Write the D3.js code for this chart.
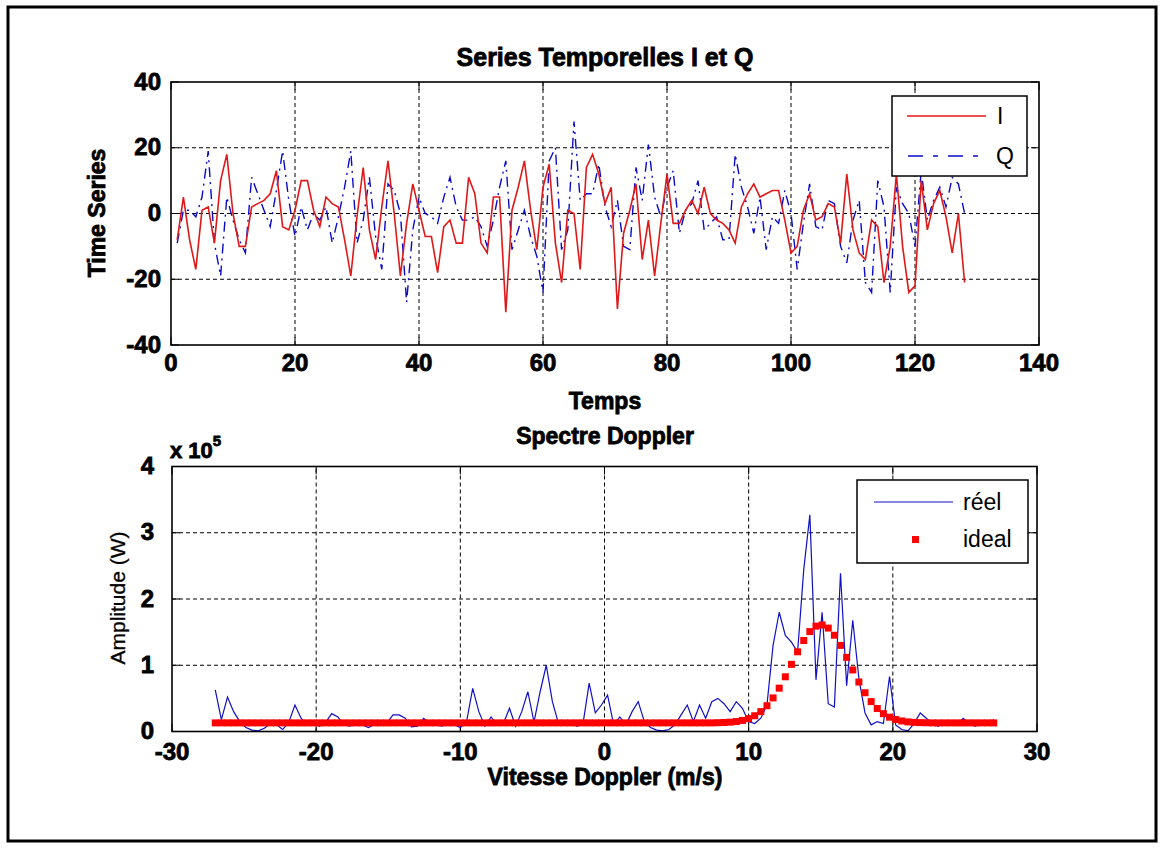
<!DOCTYPE html>
<html lang="fr">
<head>
<meta charset="UTF-8" />
<title>Series Temporelles I et Q - Spectre Doppler</title>
<style>
  body { margin: 0; background: #fff; }
  svg { display: block; font-family: "Liberation Sans", Arial, sans-serif; }
  .bold { font-weight: bold; fill: #000; stroke: #000; stroke-width: 0.8px; }
  .legend-text { font-size: 23px; fill: #000; }
</style>
<script src="https://d3js.org/d3.v7.min.js"></script>
</head>
<body>
<div id="chart"></div>
<script>
const width = 1164, height = 848;

// --- Series temporelles (128 echantillons) ---
const timeIdx = d3.range(1, 129);
const seriesI = [
  -8, 5, -8, -17, 1, 2, -9, 10, 18, 0, -10, -10, 2, 3, 4, 6,
  13, -4, -5, 1, 10, 10, 1, -4, 5, 3, 2, -8, -19, -1, 14, -5,
  -14, 2, 16, 0, -19, -3, 9, 1, -7, -7, -18, -4, -2, -9, -9, 11,
  6, -9, -12, 5, 5, -30, 1, 8, 16, 1, -11, 8, 15, -9, -21, 1,
  0, -17, 14, 18, 12, 3, 8, -29, -6, 1, 9, -14, -2, -19, -3, 12,
  -3, -3, 1, 4, 0, 8, 0, -2, -3, -5, -9, 2, 6, 9, 5, 6,
  7, 7, -2, -12, -10, 1, 6, -2, -1, 3, 2, -9, 12, -5, -12, -14,
  -2, -4, -21, -10, 12, -10, -24, -22, 10, -5, 3, 7, -1, -12, 0, -21
];
const seriesQ = [
  -9, 1, 1, -1, 5, 19, -9, -19, 5, -2, -8, -12, 11, 6, 1, -4,
  7, 19, 4, -7, 2, -5, 0, -2, 2, -9, -1, 8, 19, -9, -2, 11,
  -7, -17, 9, 7, 0, -27, -5, 5, 0, -1, -3, 5, 11, 2, -2, -2,
  -1, -4, -10, -2, 8, 16, -11, -5, 1, -7, -13, -24, 16, 20, -11, -5,
  28, 4, 6, 6, 15, 2, -4, 4, -10, -11, 14, 4, 21, 5, -1, 8,
  13, -6, 1, 3, 10, -5, -3, -1, -8, -8, 18, 8, 2, -6, 5, -11,
  -1, -3, 7, 0, -17, -3, 9, -4, -5, 4, 3, -10, -15, -2, 4, -21,
  -24, 10, 2, -24, 8, 3, 0, -10, 13, -2, 4, 8, 2, 11, 9, 0
];
const xTicksTop = [0, 20, 40, 60, 80, 100, 120, 140];
const yTicksTop = [-40, -20, 0, 20, 40];

// --- Spectre Doppler (128 raies, amplitude en 1e5 W) ---
const velocityRange = [-27, 27];
const spectreReel = [
  0.63, 0.18, 0.52, 0.30, 0.15, 0.06, 0.02, 0.01, 0.05, 0.12, 0.10, 0.03, 0.14, 0.40, 0.20, 0.10,
  0.12, 0.08, 0.14, 0.27, 0.22, 0.10, 0.08, 0.12, 0.10, 0.06, 0.11, 0.09, 0.13, 0.25, 0.25, 0.20,
  0.07, 0.08, 0.20, 0.12, 0.10, 0.08, 0.12, 0.10, 0.06, 0.15, 0.65, 0.30, 0.08, 0.22, 0.10, 0.12,
  0.35, 0.08, 0.30, 0.60, 0.14, 0.60, 1.00, 0.45, 0.12, 0.10, 0.15, 0.08, 0.12, 0.73, 0.28, 0.40,
  0.55, 0.10, 0.22, 0.10, 0.30, 0.45, 0.15, 0.06, 0.02, 0.01, 0.03, 0.10, 0.25, 0.40, 0.15, 0.40,
  0.20, 0.45, 0.50, 0.42, 0.30, 0.45, 0.35, 0.15, 0.12, 0.20, 0.40, 1.30, 1.80, 1.45, 1.35, 1.20,
  2.44, 3.27, 0.78, 1.80, 0.42, 0.37, 2.39, 0.69, 1.68, 0.80, 0.28, 0.10, 0.15, 0.12, 0.83, 0.10,
  0.03, 0.01, 0.12, 0.28, 0.20, 0.10, 0.08, 0.12, 0.15, 0.10, 0.20, 0.12, 0.08, 0.14, 0.10, 0.18
];
const spectreIdeal = [
  0.13, 0.13, 0.13, 0.13, 0.13, 0.13, 0.13, 0.13, 0.13, 0.13, 0.13, 0.13, 0.13, 0.13, 0.13, 0.13,
  0.13, 0.13, 0.13, 0.13, 0.13, 0.13, 0.13, 0.13, 0.13, 0.13, 0.13, 0.13, 0.13, 0.13, 0.13, 0.13,
  0.13, 0.13, 0.13, 0.13, 0.13, 0.13, 0.13, 0.13, 0.13, 0.13, 0.13, 0.13, 0.13, 0.13, 0.13, 0.13,
  0.13, 0.13, 0.13, 0.13, 0.13, 0.13, 0.13, 0.13, 0.13, 0.13, 0.13, 0.13, 0.13, 0.13, 0.13, 0.13,
  0.13, 0.13, 0.13, 0.13, 0.13, 0.13, 0.13, 0.13, 0.13, 0.13, 0.13, 0.13, 0.13, 0.13, 0.13, 0.13,
  0.13, 0.13, 0.133, 0.136, 0.141, 0.15, 0.167, 0.194, 0.238, 0.30, 0.389, 0.507, 0.654, 0.826, 1.014, 1.203,
  1.374, 1.508, 1.59, 1.608, 1.561, 1.453, 1.30, 1.119, 0.929, 0.747, 0.585, 0.451, 0.347, 0.269, 0.216, 0.181,
  0.159, 0.145, 0.138, 0.134, 0.132, 0.13, 0.13, 0.13, 0.13, 0.13, 0.13, 0.13, 0.13, 0.13, 0.13, 0.13
];
const xTicksBot = [-30, -20, -10, 0, 10, 20, 30];
const yTicksBot = [0, 1, 2, 3, 4];

const svg = d3.select("#chart").append("svg")
  .attr("width", width)
  .attr("height", height);

svg.append("rect").attr("width", width).attr("height", height).attr("fill", "#fff");

// cadre exterieur de la figure
svg.append("rect")
  .attr("x", 8).attr("y", 7)
  .attr("width", 1148).attr("height", 834)
  .attr("fill", "none").attr("stroke", "#000").attr("stroke-width", 3);

// dessine la grille, les graduations et leurs etiquettes
function drawAxes(g, x, y, xTicks, yTicks, xLabelY, yLabelGap) {
  const [x0, x1] = x.range();
  const [y0, y1] = y.range();

  // grille en pointilles
  g.append("g").selectAll("line")
    .data(xTicks.filter(d => d !== x.domain()[0] && d !== x.domain()[1]))
    .join("line")
    .attr("x1", d => x(d)).attr("x2", d => x(d))
    .attr("y1", y0).attr("y2", y1)
    .attr("stroke", "#000").attr("stroke-dasharray", "4,3");
  g.append("g").selectAll("line")
    .data(yTicks.filter(d => d !== y.domain()[0] && d !== y.domain()[1]))
    .join("line")
    .attr("x1", x0).attr("x2", x1)
    .attr("y1", d => y(d)).attr("y2", d => y(d))
    .attr("stroke", "#000").attr("stroke-dasharray", "4,3");

  // petites graduations vers l'interieur
  const tk = 8;
  xTicks.forEach(d => {
    g.append("line").attr("x1", x(d)).attr("x2", x(d)).attr("y1", y0).attr("y2", y0 - tk).attr("stroke", "#000");
    g.append("line").attr("x1", x(d)).attr("x2", x(d)).attr("y1", y1).attr("y2", y1 + tk).attr("stroke", "#000");
  });
  yTicks.forEach(d => {
    g.append("line").attr("x1", x0).attr("x2", x0 + tk).attr("y1", y(d)).attr("y2", y(d)).attr("stroke", "#000");
    g.append("line").attr("x1", x1).attr("x2", x1 - tk).attr("y1", y(d)).attr("y2", y(d)).attr("stroke", "#000");
  });

  g.append("g").selectAll("text")
    .data(xTicks)
    .join("text")
    .attr("class", "bold")
    .attr("x", d => x(d)).attr("y", xLabelY)
    .attr("text-anchor", "middle")
    .attr("font-size", 24)
    .text(d => d);
  g.append("g").selectAll("text")
    .data(yTicks)
    .join("text")
    .attr("class", "bold")
    .attr("x", x0 - yLabelGap).attr("y", d => y(d) + 7.5)
    .attr("text-anchor", "end")
    .attr("font-size", 24)
    .text(d => d);
}

function drawBox(g, x, y) {
  const [x0, x1] = x.range();
  const [y0, y1] = y.range();
  g.append("rect")
    .attr("x", x0).attr("y", y1)
    .attr("width", x1 - x0).attr("height", y0 - y1)
    .attr("fill", "none").attr("stroke", "#000").attr("stroke-width", 1.6);
}

// ================= graphe du haut =================
const xTop = d3.scaleLinear().domain([0, 140]).range([171, 1039]);
const yTop = d3.scaleLinear().domain([-40, 40]).range([345, 82]);
const gTop = svg.append("g");

drawAxes(gTop, xTop, yTop, xTicksTop, yTicksTop, 371, 10);

const lineTop = (vals) => d3.line()
  .x((d, i) => xTop(timeIdx[i]))
  .y(d => yTop(d))(vals);

gTop.append("path")
  .attr("d", lineTop(seriesQ))
  .attr("fill", "none").attr("stroke", "#0a0acc").attr("stroke-width", 1.4)
  .attr("stroke-dasharray", "10,5,2,5");
gTop.append("path")
  .attr("d", lineTop(seriesI))
  .attr("fill", "none").attr("stroke", "#e01818").attr("stroke-width", 1.6);

drawBox(gTop, xTop, yTop);

// legende I / Q
const leg1 = gTop.append("g");
leg1.append("rect").attr("x", 892).attr("y", 96).attr("width", 135).attr("height", 80)
  .attr("fill", "#fff").attr("stroke", "#000").attr("stroke-width", 1.5);
leg1.append("line").attr("x1", 907).attr("x2", 986).attr("y1", 116).attr("y2", 116)
  .attr("stroke", "#e01818").attr("stroke-width", 1.5);
leg1.append("text").attr("class", "legend-text").attr("x", 997).attr("y", 124).text("I");
leg1.append("line").attr("x1", 908).attr("x2", 988).attr("y1", 156).attr("y2", 156)
  .attr("stroke", "#0a0acc").attr("stroke-width", 1.4).attr("stroke-dasharray", "15,10,5,10");
leg1.append("text").attr("class", "legend-text").attr("x", 996).attr("y", 164).text("Q");

svg.append("text").attr("class", "bold").attr("font-size", 25)
  .attr("x", 605).attr("y", 66).attr("text-anchor", "middle")
  .text("Series Temporelles I et Q");
svg.append("text").attr("class", "bold").attr("font-size", 23)
  .attr("x", 605).attr("y", 409).attr("text-anchor", "middle")
  .text("Temps");
svg.append("text").attr("class", "bold").attr("font-size", 23)
  .attr("transform", "translate(105,213) rotate(-90)")
  .attr("text-anchor", "middle")
  .text("Time Series");

// ================= graphe du bas =================
const xBot = d3.scaleLinear().domain([-30, 30]).range([172, 1037]);
const yBot = d3.scaleLinear().domain([0, 4]).range([731.5, 466.5]);
const velocity = d3.scaleLinear().domain([0, spectreReel.length - 1]).range(velocityRange);
const gBot = svg.append("g");

drawAxes(gBot, xBot, yBot, xTicksBot, yTicksBot, 760, 18);

gBot.append("path")
  .attr("d", d3.line().x((d, i) => xBot(velocity(i))).y(d => yBot(d))(spectreReel))
  .attr("fill", "none").attr("stroke", "#1010c8").attr("stroke-width", 1.2);

const ms = 7;
gBot.append("g").selectAll("rect")
  .data(spectreIdeal)
  .join("rect")
  .attr("x", (d, i) => xBot(velocity(i)) - ms / 2)
  .attr("y", d => yBot(d) - ms / 2)
  .attr("width", ms).attr("height", ms)
  .attr("fill", "#ff0000");

drawBox(gBot, xBot, yBot);

// legende reel / ideal
const leg2 = gBot.append("g");
leg2.append("rect").attr("x", 857).attr("y", 480).attr("width", 171).attr("height", 83)
  .attr("fill", "#fff").attr("stroke", "#000").attr("stroke-width", 1.5);
leg2.append("line").attr("x1", 874).attr("x2", 953).attr("y1", 502).attr("y2", 502)
  .attr("stroke", "#1010c8").attr("stroke-width", 1.2);
leg2.append("text").attr("class", "legend-text").attr("x", 963).attr("y", 510).text("réel");
leg2.append("rect").attr("x", 912).attr("y", 536).attr("width", ms).attr("height", ms)
  .attr("fill", "#ff0000");
leg2.append("text").attr("class", "legend-text").attr("x", 963).attr("y", 547).text("ideal");

svg.append("text").attr("class", "bold").attr("font-size", 23)
  .attr("x", 605).attr("y", 444).attr("text-anchor", "middle")
  .text("Spectre Doppler");
svg.append("text").attr("class", "bold").attr("font-size", 23)
  .attr("x", 605).attr("y", 785).attr("text-anchor", "middle")
  .text("Vitesse Doppler (m/s)");
svg.append("text").attr("font-size", 21).attr("fill", "#000")
  .attr("stroke", "#000").attr("stroke-width", 0.3)
  .attr("transform", "translate(125,598) rotate(-90)")
  .attr("text-anchor", "middle")
  .text("Amplitude (W)");

const expo = svg.append("text").attr("class", "bold").attr("x", 170).attr("y", 458).attr("font-size", 22);
expo.append("tspan").text("x 10");
expo.append("tspan").attr("dy", -12).attr("font-size", 15).text("5");
</script>
</body>
</html>
